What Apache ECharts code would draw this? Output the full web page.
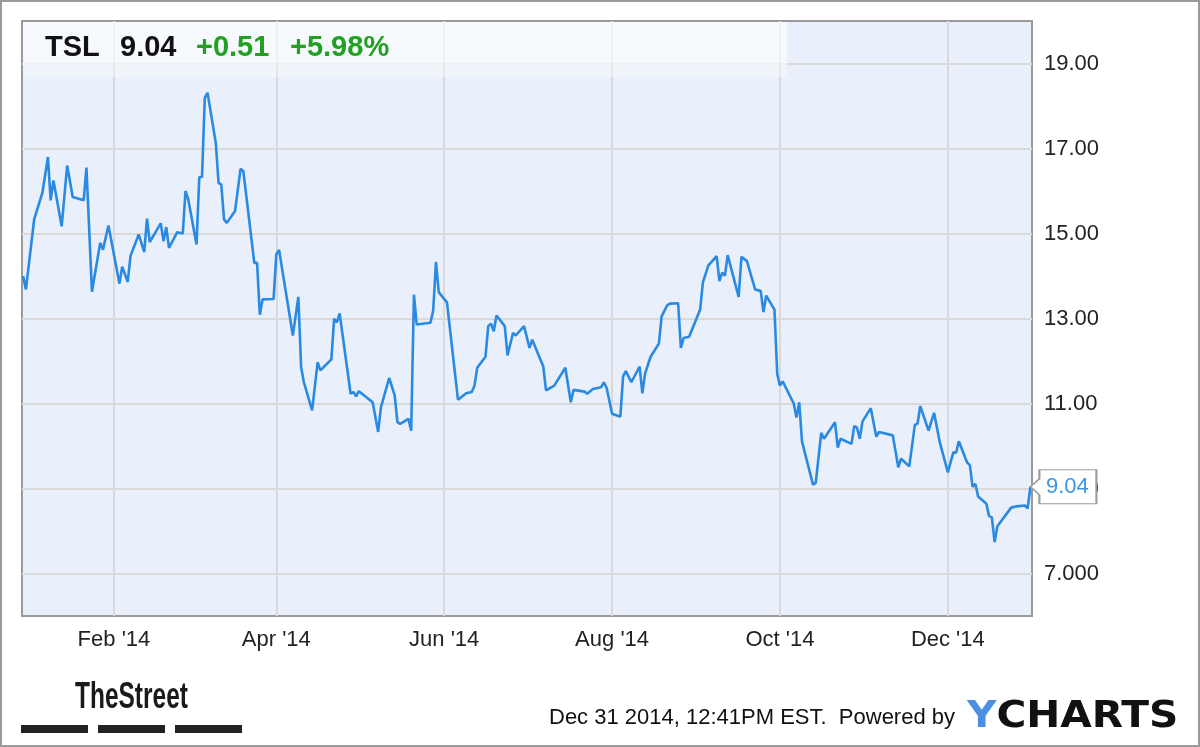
<!DOCTYPE html>
<html>
<head>
<meta charset="utf-8">
<title>TSL</title>
<script src="https://cdn.jsdelivr.net/npm/echarts@6/dist/echarts.min.js"></script>
<style>
  html, body { margin: 0; padding: 0; background: #fff; }
  #main { width: 1200px; height: 747px; }
</style>
</head>
<body>
<div id="main"></div>
<script>
// daily closes
const dates = [
  '2013-12-30', '2013-12-31', '2014-01-03', '2014-01-06', '2014-01-08', '2014-01-09', '2014-01-10',
  '2014-01-13', '2014-01-15', '2014-01-17', '2014-01-21', '2014-01-22', '2014-01-24', '2014-01-27',
  '2014-01-28', '2014-01-30', '2014-02-03', '2014-02-04', '2014-02-06', '2014-02-07', '2014-02-10',
  '2014-02-12', '2014-02-13', '2014-02-14', '2014-02-18', '2014-02-19', '2014-02-20', '2014-02-21',
  '2014-02-24', '2014-02-26', '2014-02-27', '2014-02-28', '2014-03-03', '2014-03-04', '2014-03-05',
  '2014-03-06', '2014-03-07', '2014-03-10', '2014-03-11', '2014-03-12', '2014-03-13', '2014-03-14',
  '2014-03-17', '2014-03-19', '2014-03-20', '2014-03-24', '2014-03-25', '2014-03-26', '2014-03-27',
  '2014-03-31', '2014-04-01', '2014-04-02', '2014-04-07', '2014-04-09', '2014-04-10', '2014-04-11',
  '2014-04-14', '2014-04-16', '2014-04-17', '2014-04-21', '2014-04-22', '2014-04-23', '2014-04-24',
  '2014-04-28', '2014-04-29', '2014-04-30', '2014-05-01', '2014-05-06', '2014-05-08', '2014-05-09',
  '2014-05-12', '2014-05-14', '2014-05-15', '2014-05-16', '2014-05-19', '2014-05-20', '2014-05-21',
  '2014-05-22', '2014-05-27', '2014-05-28', '2014-05-29', '2014-05-30', '2014-06-02', '2014-06-06',
  '2014-06-09', '2014-06-11', '2014-06-12', '2014-06-13', '2014-06-16', '2014-06-17', '2014-06-18',
  '2014-06-19', '2014-06-20', '2014-06-23', '2014-06-24', '2014-06-26', '2014-06-27', '2014-06-30',
  '2014-07-02', '2014-07-03', '2014-07-07', '2014-07-08', '2014-07-11', '2014-07-15', '2014-07-17',
  '2014-07-18', '2014-07-22', '2014-07-23', '2014-07-25', '2014-07-28', '2014-07-29', '2014-07-30',
  '2014-08-01', '2014-08-04', '2014-08-05', '2014-08-06', '2014-08-08', '2014-08-11', '2014-08-12',
  '2014-08-13', '2014-08-15', '2014-08-18', '2014-08-19', '2014-08-21', '2014-08-22', '2014-08-25',
  '2014-08-26', '2014-08-27', '2014-08-29', '2014-09-02', '2014-09-03', '2014-09-05', '2014-09-08',
  '2014-09-09', '2014-09-10', '2014-09-11', '2014-09-12', '2014-09-16', '2014-09-17', '2014-09-19',
  '2014-09-22', '2014-09-24', '2014-09-25', '2014-09-26', '2014-09-29', '2014-09-30', '2014-10-01',
  '2014-10-02', '2014-10-06', '2014-10-07', '2014-10-08', '2014-10-09', '2014-10-13', '2014-10-14',
  '2014-10-16', '2014-10-17', '2014-10-21', '2014-10-22', '2014-10-23', '2014-10-27', '2014-10-28',
  '2014-10-29', '2014-10-30', '2014-10-31', '2014-11-03', '2014-11-05', '2014-11-06', '2014-11-11',
  '2014-11-13', '2014-11-14', '2014-11-17', '2014-11-19', '2014-11-20', '2014-11-21', '2014-11-24',
  '2014-11-26', '2014-11-28', '2014-12-01', '2014-12-03', '2014-12-04', '2014-12-05', '2014-12-08',
  '2014-12-09', '2014-12-10', '2014-12-11', '2014-12-12', '2014-12-15', '2014-12-16', '2014-12-17',
  '2014-12-18', '2014-12-19', '2014-12-24', '2014-12-26', '2014-12-29', '2014-12-30', '2014-12-31'
]
const prices = [
  14.00, 13.68, 15.33, 15.96, 16.80, 15.78, 16.25,
  15.17, 16.60, 15.86, 15.78, 16.55, 13.63, 14.78,
  14.62, 15.19, 13.82, 14.22, 13.86, 14.47, 14.98,
  14.56, 15.35, 14.80, 15.24, 14.82, 15.15, 14.66,
  15.03, 15.00, 16.00, 15.80, 14.74, 16.33, 16.33,
  18.19, 18.31, 17.13, 16.19, 16.15, 15.33, 15.25,
  15.53, 16.52, 16.47, 14.31, 14.31, 13.09, 13.45,
  13.46, 14.51, 14.61, 12.60, 13.51, 11.86, 11.50,
  10.84, 11.97, 11.78, 12.04, 12.99, 12.91, 13.12,
  11.23, 11.27, 11.17, 11.29, 11.03, 10.33, 10.91,
  11.60, 11.19, 10.56, 10.52, 10.64, 10.36, 13.56,
  12.86, 12.90, 13.19, 14.33, 13.62, 13.38, 11.09,
  11.24, 11.27, 11.42, 11.84, 12.10, 12.82, 12.88,
  12.70, 13.07, 12.82, 12.13, 12.66, 12.60, 12.82,
  12.31, 12.50, 11.87, 11.31, 11.42, 11.84, 11.03,
  11.32, 11.28, 11.23, 11.34, 11.38, 11.50, 11.37,
  10.76, 10.69, 11.64, 11.76, 11.50, 11.87, 11.24,
  11.71, 12.10, 12.41, 13.05, 13.31, 13.35, 13.36,
  12.31, 12.54, 12.57, 13.21, 13.85, 14.25, 14.47,
  13.88, 14.08, 14.01, 14.49, 13.51, 14.45, 14.35,
  13.68, 13.65, 13.15, 13.54, 13.21, 11.70, 11.42,
  11.52, 11.00, 10.67, 11.03, 10.11, 9.09, 9.13,
  10.31, 10.17, 10.56, 9.96, 10.17, 10.05, 10.47,
  10.43, 10.17, 10.58, 10.89, 10.22, 10.33, 10.25,
  9.50, 9.70, 9.52, 10.49, 10.53, 10.94, 10.36,
  10.78, 10.11, 9.38, 9.85, 9.84, 10.11, 9.61,
  9.55, 9.04, 9.11, 8.81, 8.64, 8.35, 8.32,
  7.74, 8.11, 8.55, 8.58, 8.60, 8.53, 9.04
]

const yTicks = [7, 9, 11, 13, 15, 17, 19]
const yTickLabels = ['7.000', '9.000', '11.00', '13.00', '15.00', '17.00', '19.00']
const xTickDates = ['2014-02-01', '2014-04-01', '2014-06-01', '2014-08-01', '2014-10-01', '2014-12-01']
const xTickLabels = ["Feb '14", "Apr '14", "Jun '14", "Aug '14", "Oct '14", "Dec '14"]

const ticker = 'TSL'
const lastPrice = '9.04'
const change = '+0.51'
const changePct = '+5.98%'

// local-time parse so ticks and data agree
function toTime(s) {
  const p = s.split('-')
  return new Date(+p[0], +p[1] - 1, +p[2]).getTime()
}

const seriesData = dates.map((d, i) => [toTime(d), prices[i]])
const xTickTimes = xTickDates.map(toTime)
const last = seriesData[seriesData.length - 1]

const font = "'Liberation Sans', Arial, sans-serif"

const chart = echarts.init(document.getElementById('main'))

const option = {
  animation: false,
  backgroundColor: '#fff',
  grid: {
    left: 22,
    right: 168,
    top: 21,
    bottom: 131,
    show: true,
    backgroundColor: '#e9f0fb',
    borderColor: '#9a9a9a',
    borderWidth: 2
  },
  // x is a plain value axis holding timestamps, so the month ticks can be placed exactly
  xAxis: {
    type: 'value',
    min: new Date(2013, 11, 29, 14).getTime(),
    max: new Date(2014, 11, 31, 14).getTime(),
    axisLine: { show: false },
    axisTick: { show: false, customValues: xTickTimes },
    axisLabel: {
      customValues: xTickTimes,
      margin: 13,
      color: '#222',
      fontSize: 22,
      fontFamily: font,
      formatter: v => xTickLabels[xTickTimes.indexOf(v)] || ''
    },
    splitLine: { show: true, lineStyle: { color: '#d9d9d9', width: 2 } }
  },
  yAxis: {
    type: 'value',
    position: 'right',
    min: 6,
    max: 20,
    axisLine: { show: false },
    axisTick: { show: false, customValues: yTicks },
    axisLabel: {
      customValues: yTicks,
      margin: 12,
      color: '#222',
      fontSize: 22,
      fontFamily: font,
      formatter: v => yTickLabels[yTicks.indexOf(v)] || ''
    },
    splitLine: { show: true, lineStyle: { color: '#d9d9d9', width: 2 } }
  },
  series: [
    {
      type: 'line',
      data: seriesData,
      showSymbol: false,
      lineStyle: { color: '#2a8ae2', width: 2.6 },
      z: 3,
      markPoint: {
        symbol: 'path://M0,17 L9,9 L9,0 L66,0 L66,34 L9,34 L9,25 Z',
        symbolSize: [66, 34],
        symbolOffset: [33, 0],
        itemStyle: { color: '#fff', borderColor: '#9a9a9a', borderWidth: 1.5 },
        label: {
          show: true,
          offset: [4, 0],
          color: '#3a96e8',
          fontSize: 22,
          fontFamily: font,
          formatter: p => p.value.toFixed(2)
        },
        data: [{ coord: last, value: last[1] }]
      }
    }
  ],
  graphic: [
    // outer frame
    {
      type: 'rect', z: 0,
      shape: { x: 1, y: 1, width: 1198, height: 745 },
      style: { fill: 'none', stroke: '#9a9a9a', lineWidth: 2 }
    },
    // quote panel
    {
      type: 'rect', z: 1,
      shape: { x: 23, y: 22, width: 764, height: 43 },
      style: { fill: 'rgba(255,255,255,0.6)' }
    },
    {
      type: 'rect', z: 1,
      shape: { x: 23, y: 65, width: 764, height: 12 },
      style: { fill: 'rgba(255,255,255,0.35)' }
    },
    {
      type: 'text', z: 5, left: 45, top: 33,
      style: { text: ticker, font: 'bold 29px ' + font, fill: '#111' }
    },
    {
      type: 'text', z: 5, left: 120, top: 33,
      style: { text: lastPrice, font: 'bold 29px ' + font, fill: '#111' }
    },
    {
      type: 'text', z: 5, left: 196, top: 33,
      style: { text: change, font: 'bold 29px ' + font, fill: '#22a022' }
    },
    {
      type: 'text', z: 5, left: 290, top: 33,
      style: { text: changePct, font: 'bold 29px ' + font, fill: '#22a022' }
    },
    // TheStreet logo, squeezed to look condensed
    {
      type: 'text', z: 5, x: 75, y: 680, scaleX: 0.68,
      style: { text: 'TheStreet', font: 'bold 36px ' + font, fill: '#1a1a1a', verticalAlign: 'top' }
    },
    { type: 'rect', z: 5, shape: { x: 21, y: 725, width: 67, height: 8 }, style: { fill: '#222' } },
    { type: 'rect', z: 5, shape: { x: 98, y: 725, width: 67, height: 8 }, style: { fill: '#222' } },
    { type: 'rect', z: 5, shape: { x: 175, y: 725, width: 67, height: 8 }, style: { fill: '#222' } },
    // footer
    {
      type: 'text', z: 5, left: 549, top: 707,
      style: { text: 'Dec 31 2014, 12:41PM EST.  Powered by', font: '22px ' + font, fill: '#111' }
    },
    {
      type: 'text', z: 5, x: 967, y: 698, scaleX: 1.07,
      style: {
        text: '{y|Y}{c|CHARTS}',
        verticalAlign: 'top',
        rich: {
          y: { fill: '#4a8fe0', font: "bold 38px 'DejaVu Sans', sans-serif" },
          c: { fill: '#111', font: "bold 38px 'DejaVu Sans', sans-serif" }
        }
      }
    }
  ]
}

chart.setOption(option)
</script>
</body>
</html>
